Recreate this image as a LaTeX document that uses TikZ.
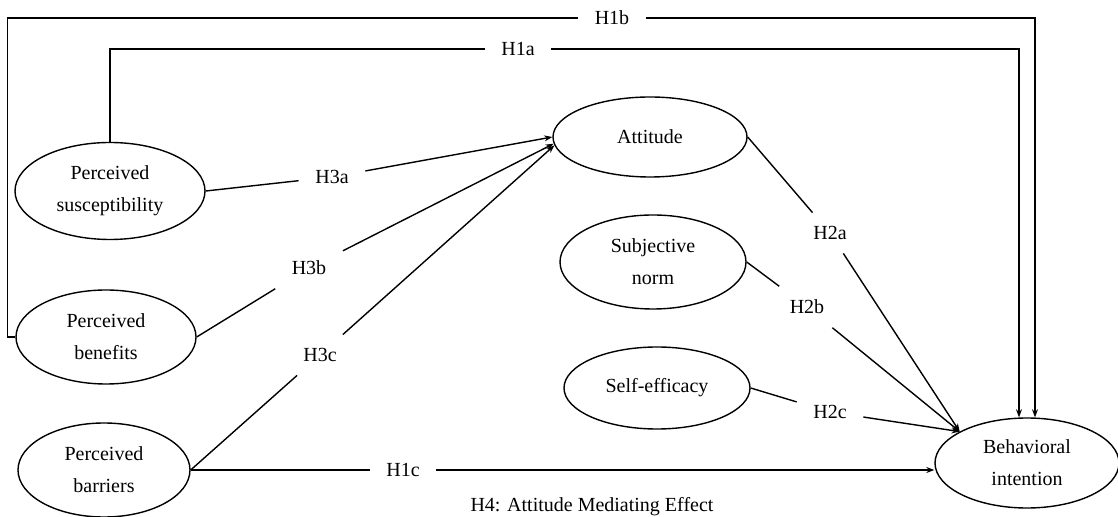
\documentclass[tikz,border=0pt]{standalone}
\usepackage{fontspec}
\setmainfont{Liberation Serif}
\usetikzlibrary{shapes.geometric,arrows.meta}

\begin{document}
\begin{tikzpicture}[x=0.5pt, y=-0.5pt, line width=0.7pt,
    every node/.style={font=\fontsize{10}{16}\selectfont},
    var/.style={draw, ellipse, align=center, inner sep=0pt},
    hyp/.style={inner xsep=8pt, inner ysep=6.5pt},
    >={Stealth[length=4pt,width=3pt]}]
    \useasboundingbox (0,0) rectangle (1118,517);
    \node[var, minimum width=95pt, minimum height=48.5pt] (sus) at (110,191) {Perceived\\susceptibility};
    \node[var, minimum width=90pt, minimum height=47pt] (ben) at (106,337) {Perceived\\benefits};
    \node[var, minimum width=86pt, minimum height=47pt] (bar) at (104,470) {Perceived\\barriers};
    \node[var, minimum width=97pt, minimum height=40pt] (att) at (650,137) {Attitude};
    \node[var, minimum width=93pt, minimum height=47pt] (sub) at (653,262) {Subjective\\norm};
    \node[var, minimum width=93pt, minimum height=41pt] (eff) at (657,388) {Self-efficacy};
    \node[var, minimum width=92pt, minimum height=45pt] (bi) at (1027,463) {Behavioral\\intention};
    \node[hyp] (h1a) at (518,49) {H1a};
    \node[hyp] (h1b) at (612,18) {H1b};
    \node[hyp] (h1c) at (403,470) {H1c};
    \node[hyp] (h3a) at (332,177) {H3a};
    \node[hyp] (h3b) at (309,268) {H3b};
    \node[hyp] (h3c) at (320,355) {H3c};
    \node[hyp] (h2a) at (830,233) {H2a};
    \node[hyp] (h2b) at (807,307) {H2b};
    \node[hyp] (h2c) at (830,412) {H2c};
    \draw[->] (sus.north) |- (h1a) -| ([xshift=-4pt]bi.north);
    \draw[->] (ben.west) -- ++(-8,0) |- (h1b) -| ([xshift=4pt]bi.north);
    \draw[->] (bar.east) -- (h1c) -- (bar.east -| bi.west);
    \draw[->] (sus.east) -- (h3a) -- (att.west);
    \draw[->] (ben.east) -- (h3b) -- (att.184);
    \draw[->] (bar.east) -- (h3c) -- (att.185);
    \draw[->] (att.east) -- (h2a) -- (bi.155);
    \draw[->] (sub.east) -- (h2b) -- (bi.155);
    \draw[->] (eff.east) -- (h2c) -- (bi.155);
    \node (note) at (592,507) {H4: Attitude Mediating Effect};
\end{tikzpicture}
\end{document}
